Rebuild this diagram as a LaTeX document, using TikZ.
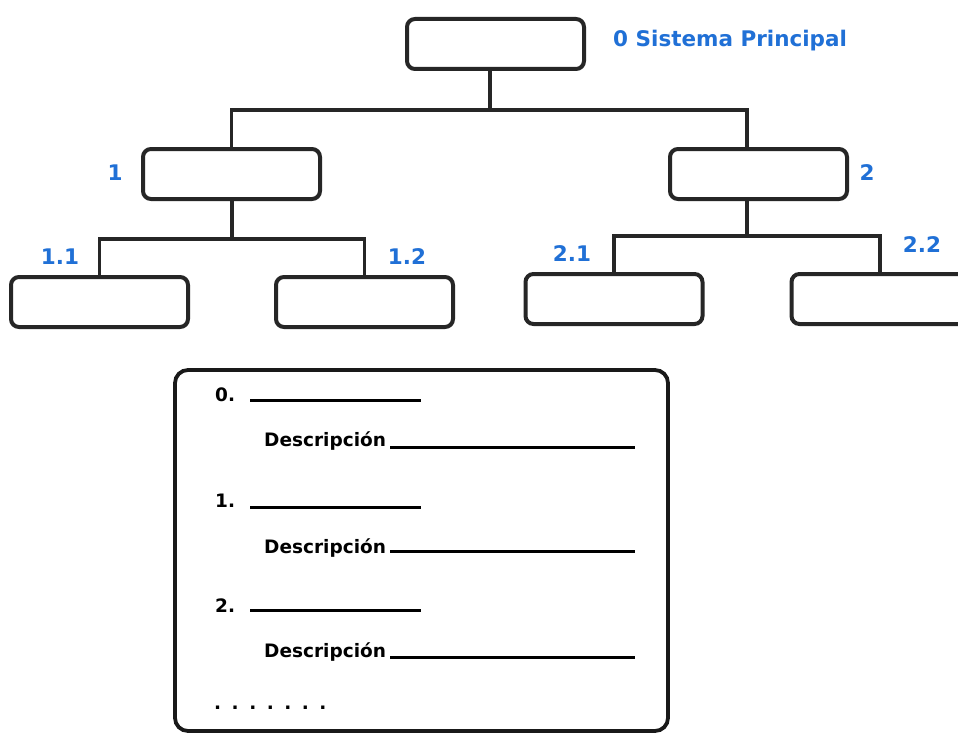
\documentclass[tikz,border=0pt]{standalone}
\usepackage{fontspec}
\setmainfont{DejaVu Sans}
\begin{document}
\begin{tikzpicture}[x=1pt,y=-1pt,
  box/.style={draw=black!85, line width=4pt, rounded corners=8pt,
    minimum width=177pt, minimum height=50pt, inner sep=0pt, fill=white},
  conn/.style={draw=black!85, line width=3.8pt},
  num/.style={text=numblue, font=\fontsize{21.5}{24}\selectfont\bfseries, inner sep=0pt},
  item/.style={font=\fontsize{18.5}{22}\selectfont\bfseries, inner sep=0pt, anchor=base west},
  rule/.style={draw=black, line width=3pt}]
\definecolor{numblue}{RGB}{32,112,214}
\clip (0,0) rectangle (958,733);
\fill[white] (0,0) rectangle (958,733);

% hierarchy boxes
\node[box] (n0) at (495.5,44) {};
\node[box] (n1) at (231.5,174) {};
\node[box] (n2) at (758.5,174) {};
\node[box] (n11) at (99.5,302) {};
\node[box] (n12) at (364.5,302) {};
\node[box] (n21) at (614,299) {};
\node[box] (n22) at (880,299) {};

% junctions of the tree
\coordinate (j0) at (490,110);
\coordinate (j1) at (232,239);
\coordinate (j2) at (747,236);

\draw[conn] (j0 |- n0.south) -- (j0);
\draw[conn] (n1.north) |- (j0) -| (j2 |- n2.north);
\draw[conn] (j1 |- n1.south) -- (j1);
\draw[conn] (n11.north) |- (j1) -| (n12.north);
\draw[conn] (j2 |- n2.south) -- (j2);
\draw[conn] (n21.north) |- (j2) -| (n22.north);

% numbering labels
\node[num, anchor=west] (l0) at (613,41) {0 Sistema Principal};
\node[num] (l1) at (115,173) {1};
\node[num] (l2) at (867,173) {2};
\node[num] (l11) at (60,257) {1.1};
\node[num] (l12) at (407,257) {1.2};
\node[num] (l21) at (572,254) {2.1};
\node[num] (l22) at (922,245) {2.2};

% description panel
\node[draw=black!90, line width=3.8pt, rounded corners=13pt,
  minimum width=493pt, minimum height=361pt, inner sep=0pt] (panel) at (421.5,550.5) {};

\node[item] (i0) at (215,401) {0.};
\coordinate (r0a) at (250,400); \coordinate (r0b) at (421,400);
\draw[rule] (r0a) -- (r0b);
\node[item] (d0) at (264,446) {Descripción};
\coordinate (s0a) at (390,447); \coordinate (s0b) at (635,447);
\draw[rule] (s0a) -- (s0b);

\node[item] (i1) at (215,507) {1.};
\coordinate (r1a) at (250,507); \coordinate (r1b) at (421,507);
\draw[rule] (r1a) -- (r1b);
\node[item] (d1) at (264,553) {Descripción};
\coordinate (s1a) at (390,551); \coordinate (s1b) at (635,551);
\draw[rule] (s1a) -- (s1b);

\node[item] (i2) at (215,612) {2.};
\coordinate (r2a) at (250,610); \coordinate (r2b) at (421,610);
\draw[rule] (r2a) -- (r2b);
\node[item] (d2) at (264,657) {Descripción};
\coordinate (s2a) at (390,657); \coordinate (s2b) at (635,657);
\draw[rule] (s2a) -- (s2b);

\node[item] (dots) at (214,709) {.\kern10.5pt.\kern10.5pt.\kern10.5pt.\kern10.5pt.\kern10.5pt.\kern10.5pt.};
\end{tikzpicture}
\end{document}
